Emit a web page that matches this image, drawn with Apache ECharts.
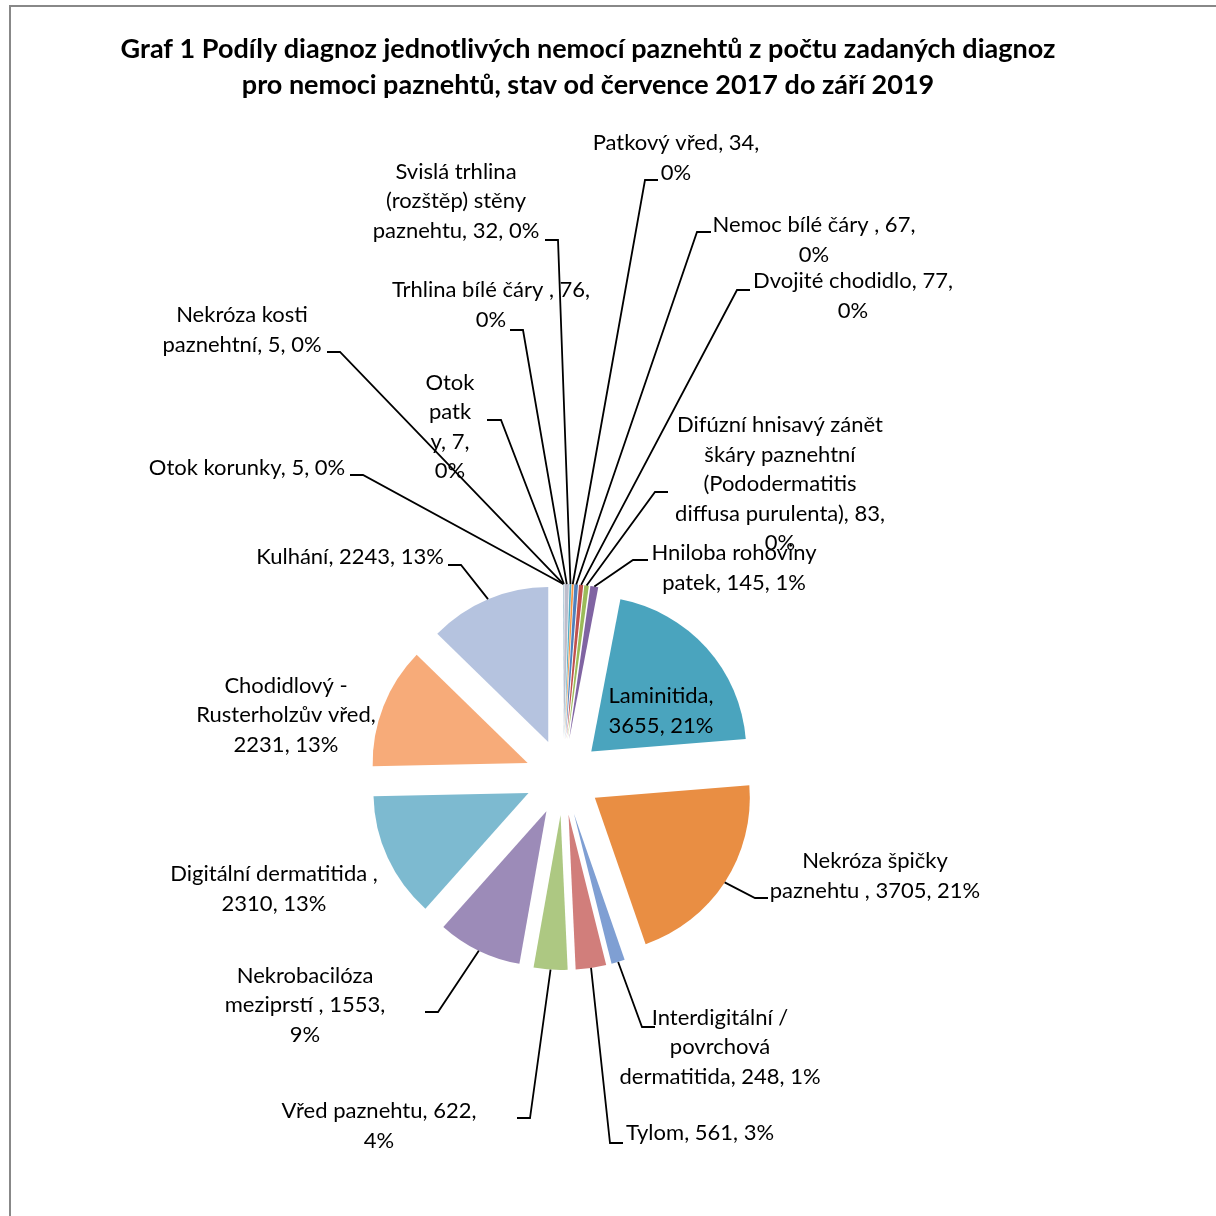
<!DOCTYPE html>
<html>
<head>
<meta charset="utf-8">
<script src="https://cdn.jsdelivr.net/npm/echarts@6.0.0/dist/echarts.min.js"></script>
<style>
  html, body { margin: 0; padding: 0; background: #ffffff; }
  #chart { width: 1216px; height: 1216px; }
</style>
</head>
<body>
<div id="chart"></div>
<script>
// Diagnosis names (clockwise from 12 o'clock) and their counts
const categories = [
  'Otok korunky',
  'Nekróza kosti paznehtní',
  'Otok patky',
  'Trhlina bílé čáry ',
  'Svislá trhlina (rozštěp) stěny paznehtu',
  'Patkový vřed',
  'Nemoc bílé čáry ',
  'Dvojité chodidlo',
  'Difúzní hnisavý zánět škáry paznehtní (Pododermatitis diffusa purulenta)',
  'Hniloba rohoviny patek',
  'Laminitida',
  'Nekróza špičky paznehtu ',
  'Interdigitální / povrchová dermatitida',
  'Tylom',
  'Vřed paznehtu',
  'Nekrobacilóza meziprstí ',
  'Digitální dermatitida ',
  'Chodidlový - Rusterholzův vřed',
  'Kulhání'
];
const counts = [5, 5, 7, 76, 32, 34, 67, 77, 83, 145, 3655, 3705, 248, 561, 622, 1553, 2310, 2231, 2243];

const sliceColors = [
  '#B7AACB', '#C4C4CC', '#5FA9C2', '#BDBDCB', '#4BACC6', '#F79646', '#4F81BD',
  '#C0504D', '#9BBB59', '#8064A2', '#4AA4BE', '#E98E43', '#7F9FD3', '#D17E7B',
  '#ADC882', '#9C8BB8', '#7DBAD0', '#F7AB79', '#B5C3DF'
];

// Characters per wrapped label line (the rest goes on the last line)
const wrapLens = [
  [], [13], [4, 4, 5], [23], [14, 15], [17], [21], [21], [21, 15, 15, 23], [16],
  [11], [14], [16, 9], [], [19], [13, 17], [23], [12, 18], []
];

// Label block centres
const labelPlace = [
  [247, 468], [242, 330], [450, 427], [491, 305], [456, 201], [676, 158],
  [814, 240], [853, 296], [780, 484], [734, 568], [661, 711], [875, 876],
  [720, 1047], [700, 1133], [379, 1126], [305, 1005], [274, 889], [286, 715], [350, 557]
];
// Leader tails: [bend x, y, end x]; null = no leader line
const leaderTail = [
  [363, 475, 350], [340, 352, 327], [501, 420, 487], [523, 330, 510], [558, 240, 545],
  [645, 180, 658], [697, 232, 711], [737, 290, 750], [655, 492, 668], [633, 560, 648],
  null, [755, 898, 768], [642, 1027, 655], [610, 1143, 623], [530, 1118, 517],
  [438, 1012, 425], null, null, [461, 565, 448]
];

const total = counts.reduce((a, b) => a + b, 0);
const FONT = 'Lato, "Open Sans", sans-serif';
const CENTER = [563, 777];
const RADIUS = 155;
const EXPLODE = 38;

function wrapText(text, lens) {
  const lines = [];
  let rest = text;
  for (const n of lens) {
    lines.push(rest.slice(0, n));
    rest = rest.slice(n);
    if (rest.charAt(0) === ' ') rest = rest.slice(1);
  }
  lines.push(rest);
  return lines.join('\n');
}

function labelText(i) {
  const pct = Math.round(counts[i] / total * 100);
  return wrapText(categories[i] + ', ' + counts[i] + ', ' + pct + '%', wrapLens[i]);
}

// Exploded slices
const sliceData = categories.map((name, i) => ({
  name: name,
  value: counts[i],
  selected: true,
  itemStyle: { color: sliceColors[i] },
  select: { itemStyle: { color: sliceColors[i], borderWidth: 0 } }
}));

// Invisible ring at the exploded outer edge that carries the labels and leaders
const labelData = categories.map((name, i) => ({
  name: name,
  value: counts[i],
  labelLine: { show: leaderTail[i] !== null }
}));

const chart = echarts.init(document.getElementById('chart'), null, { renderer: 'canvas' });

chart.setOption({
  animation: false,
  backgroundColor: '#ffffff',
  title: {
    text: 'Graf 1 Podíly diagnoz jednotlivých nemocí paznehtů z počtu zadaných diagnoz\npro nemoci paznehtů, stav od července 2017 do září 2019',
    left: 583,
    top: 26,
    textAlign: 'center',
    textStyle: {
      fontFamily: FONT,
      fontWeight: 'bold',
      fontSize: 27,
      lineHeight: 36,
      color: '#000000'
    }
  },
  graphic: [{
    type: 'rect',
    shape: { x: 10, y: 6, width: 1400, height: 1400 },
    style: { fill: null, stroke: '#888888', lineWidth: 2 },
    silent: true
  }],
  series: [
    {
      type: 'pie',
      center: CENTER,
      radius: RADIUS,
      startAngle: 90,
      clockwise: true,
      selectedMode: 'multiple',
      selectedOffset: EXPLODE,
      avoidLabelOverlap: false,
      silent: true,
      label: { show: false },
      labelLine: { show: false },
      emphasis: { disabled: true },
      data: sliceData
    },
    {
      type: 'pie',
      center: CENTER,
      radius: RADIUS + EXPLODE,
      startAngle: 90,
      clockwise: true,
      avoidLabelOverlap: false,
      silent: true,
      z: 5,
      itemStyle: { color: 'rgba(0,0,0,0)' },
      emphasis: { disabled: true },
      label: {
        show: true,
        position: 'outside',
        formatter: (p) => labelText(p.dataIndex),
        fontFamily: FONT,
        fontSize: 22,
        lineHeight: 29.5,
        color: '#000000',
        align: 'center'
      },
      labelLine: {
        show: true,
        length: 10,
        length2: 10,
        lineStyle: { color: '#000000', width: 1.8 }
      },
      labelLayout: function (params) {
        const i = params.dataIndex;
        const pos = labelPlace[i];
        const out = { x: pos[0], y: pos[1], align: 'center', verticalAlign: 'middle' };
        const tail = leaderTail[i];
        if (tail) {
          let start;
          if (params.labelLinePoints && params.labelLinePoints.length) {
            start = params.labelLinePoints[0];
          } else {
            let acc = 0;
            for (let k = 0; k < i; k++) acc += counts[k];
            const a = (acc + counts[i] / 2) / total * Math.PI * 2;
            start = [CENTER[0] + (RADIUS + EXPLODE) * Math.sin(a), CENTER[1] - (RADIUS + EXPLODE) * Math.cos(a)];
          }
          out.labelLinePoints = [[start[0], start[1]], [tail[0], tail[1]], [tail[2], tail[1]]];
        }
        return out;
      },
      data: labelData
    }
  ]
});
</script>
</body>
</html>
